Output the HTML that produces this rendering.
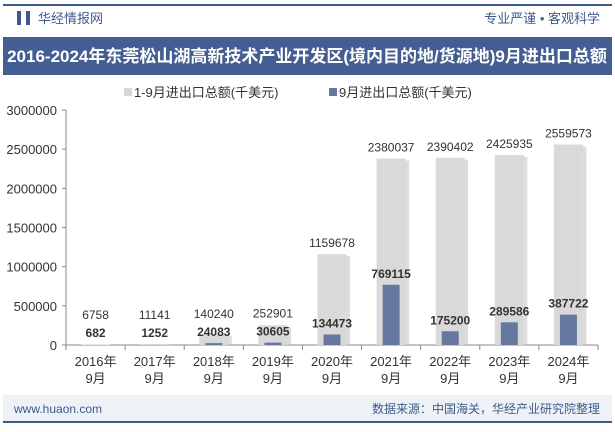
<!DOCTYPE html>
<html><head><meta charset="utf-8"><style>
body{margin:0;width:615px;height:427px;overflow:hidden;background:#fff;font-family:"Liberation Sans","Noto Sans CJK SC",sans-serif}
svg text{font-family:"Liberation Sans","Noto Sans CJK SC",sans-serif}
</style></head><body>
<svg id="c" width="615" height="427">
<rect x="0" y="0" width="615" height="427" fill="#fff"/>
<rect x="3" y="4" width="609" height="2" fill="#3e5a8c"/>
<rect x="17" y="11" width="4" height="14" fill="#3e5a8c"/>
<rect x="26" y="11" width="4" height="14" fill="#3e5a8c"/>
<text x="38" y="23" font-size="13" fill="#3e5a8c">华经情报网</text>
<text x="600" y="23" font-size="13" fill="#3e5a8c" text-anchor="end">专业严谨 • 客观科学</text>
<rect x="3" y="37" width="609" height="38" fill="#445e92"/>
<text x="307" y="62" font-size="17" font-weight="bold" fill="#fff" text-anchor="middle">2016-2024年东莞松山湖高新技术产业开发区(境内目的地/货源地)9月进出口总额</text>
<rect x="124" y="88" width="8" height="8" fill="#d6d6d6"/>
<text x="134" y="97" font-size="13" fill="#333">1-9月进出口总额(千美元)</text>
<rect x="329" y="88" width="8" height="8" fill="#66789f"/>
<text x="339" y="97" font-size="13" fill="#333">9月进出口总额(千美元)</text>
<g id="plot"></g>
<rect x="3" y="395" width="609" height="26" fill="#eef1f6"/>
<rect x="3" y="421" width="609" height="2" fill="#3e5a8c"/>
<text x="14" y="413" font-size="12" fill="#3e5a8c">www.huaon.com</text>
<text x="600" y="413" font-size="12" fill="#3e5a8c" text-anchor="end">数据来源：中国海关，华经产业研究院整理</text>
</svg>
<script>
const categories=["2016年","2017年","2018年","2019年","2020年","2021年","2022年","2023年","2024年"];
const ytdValues=[6758,11141,140240,252901,1159678,2380037,2390402,2425935,2559573];
const sepValues=[682,1252,24083,30605,134473,769115,175200,289586,387722];
const yTicks=[0,500000,1000000,1500000,2000000,2500000,3000000];
const NS="http://www.w3.org/2000/svg";
const g=document.getElementById('plot');
const X0=66,X1=598,Y0=345,Y1=110,MAX=3000000;
const bw=(X1-X0)/categories.length;
const y=v=>Y0-(v/MAX)*(Y0-Y1);
const cx=i=>X0+bw*(i+0.5);
function mk(t,a){const e=document.createElementNS(NS,t);for(const k in a)e.setAttribute(k,a[k]);g.appendChild(e);return e;}
let ax=mk('line',{x1:X0,y1:Y1,x2:X0,y2:Y0,stroke:'#888'});


let bx=mk('line',{x1:X0,y1:Y0,x2:X1,y2:Y0,stroke:'#888'});


yTicks.forEach(v=>{
 let tk=mk('line',{x1:X0-4,x2:X0,y1:y(v),y2:y(v),stroke:'#888'});
 
 
 let t=mk('text',{x:X0-9,y:y(v)+5,'font-size':13,fill:'#333','text-anchor':'end'});
 t.textContent=v;
 
 
});
for(let i=0;i<=categories.length;i++){
 let tk=mk('line',{x1:X0+bw*i,x2:X0+bw*i,y1:Y0,y2:Y0+5,stroke:'#888'});
 
 
}
categories.forEach((c,i)=>{
 const x=cx(i);
 let sh=mk('rect',{x:x-14+3,y:y(ytdValues[i])+2,width:29,height:Y0-y(ytdValues[i])-2,fill:'#bbb',opacity:0.5});
 
 
 let b1=mk('rect',{x:x-14.5,y:y(ytdValues[i]),width:29,height:Y0-y(ytdValues[i]),fill:'#d9d9d9'});
 
 
 let b2=mk('rect',{x:x-8.5,y:y(sepValues[i]),width:17,height:Y0-y(sepValues[i]),fill:'#66789f'});
 
 
 const dy=Math.min(y(sepValues[i])-7,337);
 const gy=Math.min(y(ytdValues[i])-7,dy-18);
 let t1=mk('text',{x:x,y:gy,'font-size':12,fill:'#333','text-anchor':'middle'});
 t1.textContent=ytdValues[i];
 
 
 let t2=mk('text',{x:x,y:dy,'font-size':12,'font-weight':'bold',fill:'#333','text-anchor':'middle'});
 t2.textContent=sepValues[i];
 
 
 let l1=mk('text',{x:x,y:366,'font-size':13,fill:'#333','text-anchor':'middle'});
 l1.textContent=c;
 
 
 let l2=mk('text',{x:x,y:383,'font-size':13,fill:'#333','text-anchor':'middle'});
 l2.textContent='9月';
 
 
});
</script>
</body></html>
